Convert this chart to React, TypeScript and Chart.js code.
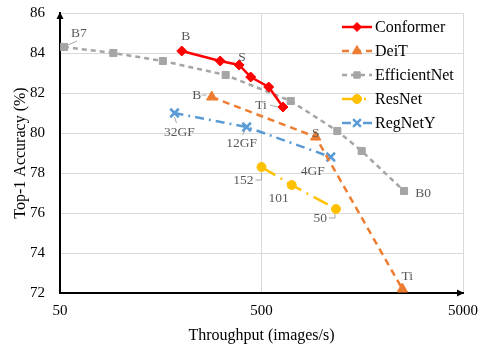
import React, { useEffect, useRef } from 'react';
import { Chart, registerables } from 'chart.js';
import { drawPoint } from 'chart.js/helpers';

Chart.register(...registerables);

// ---------- data ----------
const seriesNames = ['Conformer', 'DeiT', 'EfficientNet', 'ResNet', 'RegNetY'];

const conformerX = [201, 312, 387, 442, 543, 639];
const conformerY = [84.1, 83.6, 83.4, 82.8, 82.3, 81.3];
const conformerLabels = ['B', '', 'S', '', '', 'Ti'];

const deitX = [283, 929, 2500];
const deitY = [81.8, 79.8, 72.2];
const deitLabels = ['B', 'S', 'Ti'];

const effX = [52.3, 92, 162, 332, 698, 1189, 1571, 2549];
const effY = [84.3, 84.0, 83.6, 82.9, 81.6, 80.1, 79.1, 77.1];
const effLabels = ['B7', '', '', '', '', '', '', 'B0'];

const resX = [500, 706, 1171];
const resY = [78.3, 77.4, 76.2];
const resLabels = ['152', '101', '50'];

const regX = [185, 422, 1103];
const regY = [81.0, 80.3, 78.8];
const regLabels = ['32GF', '12GF', '4GF'];

const xTicks = [50, 500, 5000];
const yMin = 72;
const yMax = 86;
const yStep = 2;

const xTitle = 'Throughput (images/s)';
const yTitle = 'Top-1 Accuracy (%)';

// ---------- styles ----------
const FONT = '"Liberation Serif", "Times New Roman", serif';
const colors = ['#FF0000', '#ED7D31', '#A5A5A5', '#FFC000', '#5B9BD5'];
const pointStyles = ['rectRot', 'triangle', 'rect', 'circle', 'crossRot'];
const pointRadii = [5, 6, 5, 4.5, 6];
const legendRadii = [4.5, 5.5, 4.5, 4.5, 5.5];
const dashes = [[], [7, 5], [5, 4], [16, 6, 2, 6], [9, 5, 2, 5]];

type LS = { dx: number; dy: number; align: CanvasTextAlign; leader?: number[][] } | null;
const labelStyles: LS[][] = [
  [
    { dx: 4, dy: -15, align: 'center' },
    null,
    { dx: 3, dy: -8, align: 'center' },
    null,
    null,
    { dx: -22, dy: -2, align: 'center', leader: [[-13, -2], [-5, 0]] },
  ],
  [
    { dx: -15, dy: -2, align: 'center', leader: [[-10, -2], [-5, -2]] },
    { dx: 0, dy: -4, align: 'center' },
    { dx: 5, dy: -13, align: 'center' },
  ],
  [
    { dx: 15, dy: -14, align: 'center', leader: [[4, -2], [13, -6]] },
    null, null, null, null, null, null,
    { dx: 19, dy: 2, align: 'center' },
  ],
  [
    { dx: -8, dy: 13, align: 'right', leader: [[-6, 13], [0, 13], [0, 6]] },
    { dx: -13, dy: 13, align: 'center' },
    { dx: -9, dy: 9, align: 'right', leader: [[-7, 9], [-1, 9], [-1, 5]] },
  ],
  [
    { dx: 5, dy: 19, align: 'center', leader: [[0, 4], [2, 10]] },
    { dx: -5, dy: 16, align: 'center', leader: [[-2, 4], [-4, 8]] },
    { dx: -18, dy: 14, align: 'center' },
  ],
];

const allLabels = [conformerLabels, deitLabels, effLabels, resLabels, regLabels];

const labelPlugin = {
  id: 'pointLabels',
  afterDatasetsDraw(chart: any) {
    const ctx = chart.ctx as CanvasRenderingContext2D;
    ctx.save();
    ctx.font = `13.5px ${FONT}`;
    ctx.fillStyle = '#595959';
    ctx.strokeStyle = '#A6A6A6';
    ctx.lineWidth = 1;
    ctx.textBaseline = 'middle';
    chart.data.datasets.forEach((_ds: any, di: number) => {
      const meta = chart.getDatasetMeta(di);
      meta.data.forEach((el: any, i: number) => {
        const text = allLabels[di][i];
        const st = labelStyles[di][i];
        if (!text || !st) return;
        const { x, y } = el;
        if (st.leader) {
          ctx.beginPath();
          st.leader.forEach((p, k) => {
            if (k === 0) ctx.moveTo(x + p[0], y + p[1]);
            else ctx.lineTo(x + p[0], y + p[1]);
          });
          ctx.stroke();
        }
        ctx.textAlign = st.align;
        ctx.fillText(text, x + st.dx, y + st.dy);
      });
    });
    ctx.restore();
  },
};

const legendPlugin = {
  id: 'customLegend',
  afterDraw(chart: any) {
    const ctx = chart.ctx as CanvasRenderingContext2D;
    const { right, top } = chart.chartArea;
    ctx.save();
    seriesNames.forEach((name, i) => {
      const y = top + 14 + 24 * i;
      const x0 = right - 121;
      const x1 = right - 91;
      ctx.beginPath();
      ctx.setLineDash(dashes[i]);
      ctx.strokeStyle = colors[i];
      ctx.lineWidth = 2.5;
      ctx.moveTo(x0, y);
      ctx.lineTo(x1, y);
      ctx.stroke();
      ctx.setLineDash([]);
      ctx.fillStyle = colors[i];
      ctx.strokeStyle = colors[i];
      ctx.lineWidth = i === 4 ? 2.5 : 1;
      drawPoint(ctx, { pointStyle: pointStyles[i], radius: legendRadii[i], borderWidth: i === 4 ? 2.5 : 1, rotation: 0 } as any, (x0 + x1) / 2, y);
      ctx.fillStyle = '#000';
      ctx.font = `16px ${FONT}`;
      ctx.textAlign = 'left';
      ctx.textBaseline = 'middle';
      ctx.fillText(name, right - 88, y + 1);
    });
    ctx.restore();
  },
};

const arrowPlugin = {
  id: 'axisArrows',
  afterDraw(chart: any) {
    const ctx = chart.ctx as CanvasRenderingContext2D;
    const { left, right, top, bottom } = chart.chartArea;
    ctx.save();
    ctx.fillStyle = '#000';
    ctx.beginPath();
    ctx.moveTo(left, top - 1);
    ctx.lineTo(left - 3.5, top + 6);
    ctx.lineTo(left + 3.5, top + 6);
    ctx.closePath();
    ctx.fill();
    ctx.beginPath();
    ctx.moveTo(right + 1, bottom);
    ctx.lineTo(right - 6, bottom - 3.5);
    ctx.lineTo(right - 6, bottom + 3.5);
    ctx.closePath();
    ctx.fill();
    ctx.restore();
  },
};

function makeData(xs: number[], ys: number[]) {
  return xs.map((x, i) => ({ x, y: ys[i] }));
}

export default function App() {
  const ref = useRef<HTMLCanvasElement | null>(null);
  useEffect(() => {
    if (!ref.current) return;
    const seriesX = [conformerX, deitX, effX, resX, regX];
    const seriesY = [conformerY, deitY, effY, resY, regY];
    const datasets = seriesNames.map((name, i) => ({
      label: name,
      data: makeData(seriesX[i], seriesY[i]),
      borderColor: colors[i],
      backgroundColor: colors[i],
      borderWidth: 2.5,
      borderDash: dashes[i],
      pointStyle: pointStyles[i] as any,
      pointRadius: pointRadii[i],
      pointBorderWidth: i === 4 ? 2.5 : 1,
      pointBackgroundColor: colors[i],
      pointBorderColor: colors[i],
      tension: 0,
      fill: false,
    }));
    const chart = new Chart(ref.current, {
      type: 'line',
      data: { datasets },
      options: {
        animation: false,
        responsive: false,
        layout: { padding: { left: 0, top: 13, right: 33, bottom: 0 } },
        plugins: { legend: { display: false }, tooltip: { enabled: false } },
        scales: {
          x: {
            type: 'logarithmic',
            min: 50,
            max: 5000,
            afterBuildTicks: (scale: any) => {
              scale.ticks = xTicks.map((v) => ({ value: v }));
            },
            afterFit: (scale: any) => {
              scale.height = 52;
              scale.paddingLeft = 0;
              scale.paddingRight = 0;
            },
            ticks: {
              color: '#000',
              font: { family: FONT, size: 15 },
              padding: 9,
              maxRotation: 0,
              autoSkip: false,
              callback: (v: any) => String(v),
            },
            grid: { color: '#D9D9D9', lineWidth: 1, drawTicks: false },
            border: { display: true, color: '#000', width: 2 },
            title: {
              display: true,
              text: xTitle,
              color: '#000',
              font: { family: FONT, size: 16 },
              padding: { top: 3, bottom: 0 },
            },
          },
          y: {
            type: 'linear',
            min: yMin,
            max: yMax,
            afterFit: (scale: any) => {
              scale.width = 60;
              scale.paddingTop = 0;
              scale.paddingBottom = 0;
            },
            ticks: {
              stepSize: yStep,
              color: '#000',
              font: { family: FONT, size: 15 },
              padding: 15,
            },
            grid: { color: '#D9D9D9', lineWidth: 1, drawTicks: false },
            border: { display: true, color: '#000', width: 2 },
            title: {
              display: true,
              text: yTitle,
              color: '#000',
              font: { family: FONT, size: 16 },
              padding: { top: 11, bottom: 0 },
            },
          },
        },
      },
      plugins: [labelPlugin, legendPlugin, arrowPlugin],
    });
    return () => chart.destroy();
  }, []);
  return (
    <div style={{ position: 'fixed', left: 0, top: 0, width: 496, height: 345, background: '#fff' }}>
      <canvas ref={ref} width={496} height={345} style={{ display: 'block' }} />
    </div>
  );
}
